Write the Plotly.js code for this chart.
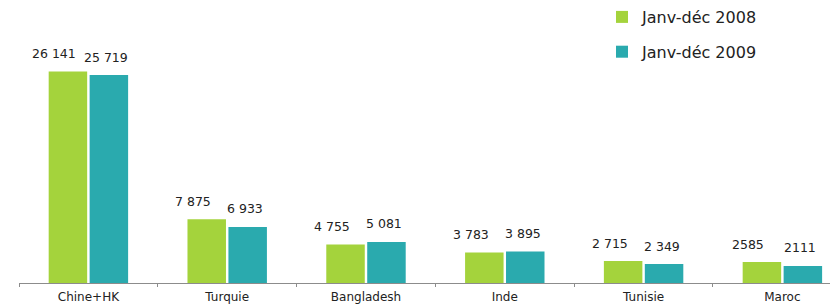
<!DOCTYPE html>
<html>
<head>
<meta charset="utf-8">
<script src="https://cdn.plot.ly/plotly-3.0.1.min.js"></script>
<style>html,body{margin:0;padding:0;background:#fff;}#chart{width:830px;height:307px;}</style>
</head>
<body>
<div id="chart"></div>
<script>
const categories = ["Chine+HK", "Turquie", "Bangladesh", "Inde", "Tunisie", "Maroc"];
const values2008 = [26141, 7875, 4755, 3783, 2715, 2585];
const values2009 = [25719, 6933, 5081, 3895, 2349, 2111];
const labels2008 = ["26 141", "7 875", "4 755", "3 783", "2 715", "2585"];
const labels2009 = ["25 719", "6 933", "5 081", "3 895", "2 349", "2111"];
const seriesNames = ["Janv-déc 2008", "Janv-déc 2009"];

const green = "#a4d33c";
const teal = "#2aaaae";

const traces = [
  {type: "bar", name: seriesNames[0], x: categories, y: values2008, marker: {color: green}, legendgroup: "a", hoverinfo: "none"},
  {type: "bar", name: seriesNames[1], x: categories, y: values2009, marker: {color: teal}, legendgroup: "b", hoverinfo: "none"}
];

const annotations = [];
const xsh = [-34, 18];
[[values2008, labels2008], [values2009, labels2009]].forEach(([vals, labs], s) => {
  vals.forEach((v, i) => {
    annotations.push({
      x: i, y: v, xref: "x", yref: "y", text: labs[i], showarrow: false,
      xshift: xsh[s], yshift: 18, yanchor: "middle", xanchor: "center",
      font: {family: "DejaVu Sans", size: 12.5, color: "#222"}
    });
  });
});

const layout = {
  width: 830, height: 307,
  margin: {l: 19, r: 0, t: 42, b: 24},
  paper_bgcolor: "#fff", plot_bgcolor: "#fff",
  barmode: "group", bargap: 0.41, bargroupgap: 0.06,
  showlegend: true,
  legend: {x: (602 - 19) / 811, xanchor: "left", y: 1 + 42/241 + 0.015, yanchor: "top",
           font: {family: "DejaVu Sans", size: 16, color: "#222"}, tracegroupgap: 11,
           bgcolor: "rgba(0,0,0,0)", itemclick: false},
  xaxis: {type: "category", range: [-0.5, 5.343], showline: true, linecolor: "#8c8c8c", linewidth: 1.2,
          ticks: "outside", tickson: "boundaries", ticklen: 3, tickcolor: "#8c8c8c", tickwidth: 1,
          showgrid: false, zeroline: false,
          tickfont: {family: "DejaVu Sans", size: 12, color: "#222"}, ticklabelstandoff: 2},
  yaxis: {range: [0, 29430], visible: false, showgrid: false, zeroline: false},
  annotations: annotations
};

Plotly.newPlot("chart", traces, layout, {displayModeBar: false, staticPlot: true});
</script>
</body>
</html>
